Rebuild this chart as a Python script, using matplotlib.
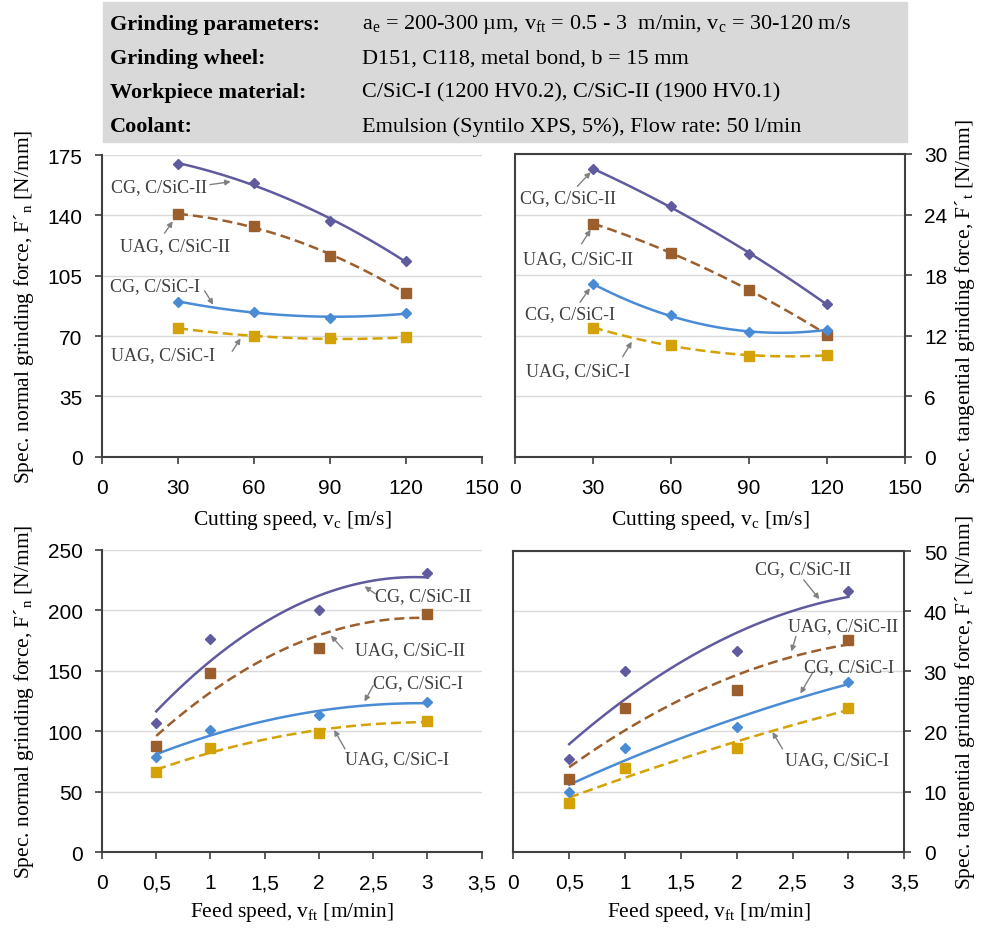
import numpy as np
import matplotlib
matplotlib.use("Agg")
import matplotlib.pyplot as plt
from matplotlib.patches import Rectangle

plt.rcParams['font.family'] = ['Liberation Serif', 'DejaVu Serif']
plt.rcParams['mathtext.fontset'] = 'custom'
plt.rcParams['mathtext.rm'] = 'Liberation Serif'
plt.rcParams['mathtext.it'] = 'Liberation Serif:italic'

# ---- data ----
vc = [30, 60, 90, 120]
vft = [0.5, 1, 2, 3]

series_names = ['CG, C/SiC-II', 'UAG, C/SiC-II', 'CG, C/SiC-I', 'UAG, C/SiC-I']

fn_vc_cg2 = [170, 158.7, 137, 113.4]
fn_vc_uag2 = [140.6, 134, 116.5, 95.1]
fn_vc_cg1 = [90, 84.2, 80.7, 83.2]
fn_vc_uag1 = [74.7, 69.8, 68.7, 69.2]

ft_vc_cg2 = [28.5, 24.8, 20.1, 15.1]
ft_vc_uag2 = [23.1, 20.2, 16.5, 12.1]
ft_vc_cg1 = [17.1, 14.0, 12.35, 12.6]
ft_vc_uag1 = [12.8, 11.06, 10.0, 10.07]

fn_vft_cg2 = [106.8, 176.6, 200, 231]
fn_vft_uag2 = [87.7, 148.2, 168.9, 197]
fn_vft_cg1 = [78.6, 101.2, 113.9, 124.2]
fn_vft_uag1 = [66.2, 86.3, 98.5, 108.4]

ft_vft_cg2 = [15.4, 30.0, 33.3, 43.3]
ft_vft_uag2 = [12.06, 23.9, 26.9, 35.2]
ft_vft_cg1 = [10.0, 17.3, 20.8, 28.3]
ft_vft_uag1 = [8.1, 14.0, 17.2, 23.9]

header_keys = ['Grinding parameters:', 'Grinding wheel:', 'Workpiece material:', 'Coolant:']
header_vals = [r'a$_\mathrm{e}$ = 200-300 µm, v$_\mathrm{ft}$ = 0.5 - 3  m/min, v$_\mathrm{c}$ = 30-120 m/s',
               'D151, C118, metal bond, b = 15 mm',
               'C/SiC-I (1200 HV0.2), C/SiC-II (1900 HV0.1)',
               'Emulsion (Syntilo XPS, 5%), Flow rate: 50 l/min']

# ---- styles ----
colors = ['#5f5b9e', '#9b5f2e', '#4a8bd6', '#d4a106']
markers = ['D', 's', 'D', 's']
msizes = [5, 7, 5, 7]
lstyles = ['-', (0, (4, 2)), '-', (0, (4, 2))]
spine_c = '#404040'
txt_c = '#404040'
arrow_c = '#808080'

# annotation positions: (text x, text y), arrow tail, arrow head
ann_tl = [((3.4, 156.7), (42.6, 157.9), (50.8, 159.6)),
          ((7.3, 122.5), (24.7, 129.7), (27.9, 136.6)),
          ((3.1, 99.3), (40.5, 96.3), (43.9, 88.2)),
          ((3.4, 59.2), (51.4, 61.2), (54.7, 68.7))]
ann_tr = [((1.9, 25.7), (24.0, 26.8), (29.1, 28.2)),
          ((3.2, 19.6), (25.6, 21.1), (29.1, 22.5)),
          ((3.8, 14.2), (25.0, 15.3), (28.8, 16.7)),
          ((4.2, 8.5), (41.4, 9.9), (44.9, 11.4))]
ann_bl = [((2.52, 212.4), (2.52, 213.8), (2.42, 219.9)),
          ((2.33, 167.5), (2.22, 168.2), (2.11, 179.3)),
          ((2.5, 140.7), (2.5, 137.9), (2.42, 124.7)),
          ((2.24, 77.2), (2.24, 85.5), (2.14, 101.2))]
ann_br = [((2.16, 47.0), (2.6, 45.2), (2.74, 42.0)),
          ((2.46, 37.6), (2.53, 35.8), (2.49, 33.3)),
          ((2.6, 30.7), (2.68, 29.8), (2.57, 26.3)),
          ((2.43, 15.3), (2.41, 17.1), (2.32, 19.9))]


def draw_panel(ax, x, ys, anns):
    for i, y in enumerate(ys):
        # 2nd order polynomial trendline
        coef = np.polyfit(x, y, 2)
        xx = np.linspace(x[0], x[-1], 100)
        ax.plot(xx, np.polyval(coef, xx), color=colors[i], lw=1.8,
                linestyle=lstyles[i], zorder=3)
        ax.plot(x, y, linestyle='none', marker=markers[i], ms=msizes[i],
                color=colors[i], zorder=4)
    for i, (tp, tail, head) in enumerate(anns):
        ax.text(tp[0], tp[1], series_names[i], fontsize=13, color=txt_c,
                ha='left', va='center', zorder=5)
        ax.annotate('', xy=head, xytext=tail,
                    arrowprops=dict(arrowstyle='-|>', color=arrow_c, lw=1,
                                    mutation_scale=8, shrinkA=0, shrinkB=0))


def style_axes(ax, right=False):
    ax.grid(axis='y', color='#dadada', lw=1)
    ax.set_axisbelow(True)
    for s in ax.spines.values():
        s.set_color(spine_c)
        s.set_linewidth(1.5)
    if right:
        ax.yaxis.tick_right()
        ax.yaxis.set_label_position('right')
    else:
        ax.spines['top'].set_visible(False)
        ax.spines['right'].set_visible(False)
    ax.tick_params(direction='out', length=5, width=1.2, color=spine_c,
                   labelsize=15)
    ax.tick_params(axis='x', pad=10)
    ax.tick_params(axis='y', pad=9)
    for lab in ax.get_xticklabels() + ax.get_yticklabels():
        lab.set_family('Liberation Sans')


fig = plt.figure(figsize=(9.95, 9.29), dpi=100)

# header box
fig.patches.append(Rectangle((103 / 995, 1 - 143 / 929), 804 / 995, 140 / 929,
                             transform=fig.transFigure, color='#d9d9d9', zorder=0))
row_y = [25, 59, 93, 127]
for k, v, ry in zip(header_keys, header_vals, row_y):
    fig.text(110 / 995, 1 - ry / 929, k, fontsize=16, fontweight='bold',
             va='center', ha='left')
    fig.text(362 / 995, 1 - ry / 929, v, fontsize=16, va='center', ha='left')

ax_tl = fig.add_axes([0.1025, 0.5073, 0.382, 0.3246])
ax_tr = fig.add_axes([0.5176, 0.5073, 0.392, 0.3259])
ax_bl = fig.add_axes([0.1025, 0.0815, 0.3816, 0.3254])
ax_br = fig.add_axes([0.5159, 0.0821, 0.3929, 0.3237])

draw_panel(ax_tl, vc, [fn_vc_cg2, fn_vc_uag2, fn_vc_cg1, fn_vc_uag1], ann_tl)
draw_panel(ax_tr, vc, [ft_vc_cg2, ft_vc_uag2, ft_vc_cg1, ft_vc_uag1], ann_tr)
draw_panel(ax_bl, vft, [fn_vft_cg2, fn_vft_uag2, fn_vft_cg1, fn_vft_uag1], ann_bl)
draw_panel(ax_br, vft, [ft_vft_cg2, ft_vft_uag2, ft_vft_cg1, ft_vft_uag1], ann_br)

ax_tl.set_xlim(0, 150)
ax_tl.set_xticks(np.arange(0, 151, 30))
ax_tl.set_ylim(0, 175)
ax_tl.set_yticks(np.arange(0, 176, 35))

ax_tr.set_xlim(0, 150)
ax_tr.set_xticks(np.arange(0, 151, 30))
ax_tr.set_ylim(0, 30)
ax_tr.set_yticks(np.arange(0, 31, 6))

xt = np.arange(0, 3.51, 0.5)
xtl = ['0', '0,5', '1', '1,5', '2', '2,5', '3', '3,5']
for ax in (ax_bl, ax_br):
    ax.set_xlim(0, 3.5)
    ax.set_xticks(xt)
    ax.set_xticklabels(xtl)
ax_bl.set_ylim(0, 250)
ax_bl.set_yticks(np.arange(0, 251, 50))
ax_br.set_ylim(0, 50)
ax_br.set_yticks(np.arange(0, 51, 10))

style_axes(ax_tl)
style_axes(ax_tr, right=True)
style_axes(ax_bl)
style_axes(ax_br, right=True)

lab_fs = 15.5
ax_tl.set_xlabel(r'Cutting speed, v$_\mathrm{c}$ [m/s]', fontsize=lab_fs, labelpad=8)
ax_tr.set_xlabel(r'Cutting speed, v$_\mathrm{c}$ [m/s]', fontsize=lab_fs, labelpad=8)
ax_bl.set_xlabel(r'Feed speed, v$_\mathrm{ft}$ [m/min]', fontsize=lab_fs, labelpad=6)
ax_br.set_xlabel(r'Feed speed, v$_\mathrm{ft}$ [m/min]', fontsize=lab_fs, labelpad=6)
ax_tl.set_ylabel(r'Spec. normal grinding force, F´$_\mathrm{n}$ [N/mm]', fontsize=lab_fs, labelpad=8)
ax_bl.set_ylabel(r'Spec. normal grinding force, F´$_\mathrm{n}$ [N/mm]', fontsize=lab_fs, labelpad=8)
ax_tr.set_ylabel(r'Spec. tangential grinding force, F´$_\mathrm{t}$ [N/mm]', fontsize=lab_fs, labelpad=4)
ax_br.set_ylabel(r'Spec. tangential grinding force, F´$_\mathrm{t}$ [N/mm]', fontsize=lab_fs, labelpad=4)

fig.savefig('out.png', dpi=100)
